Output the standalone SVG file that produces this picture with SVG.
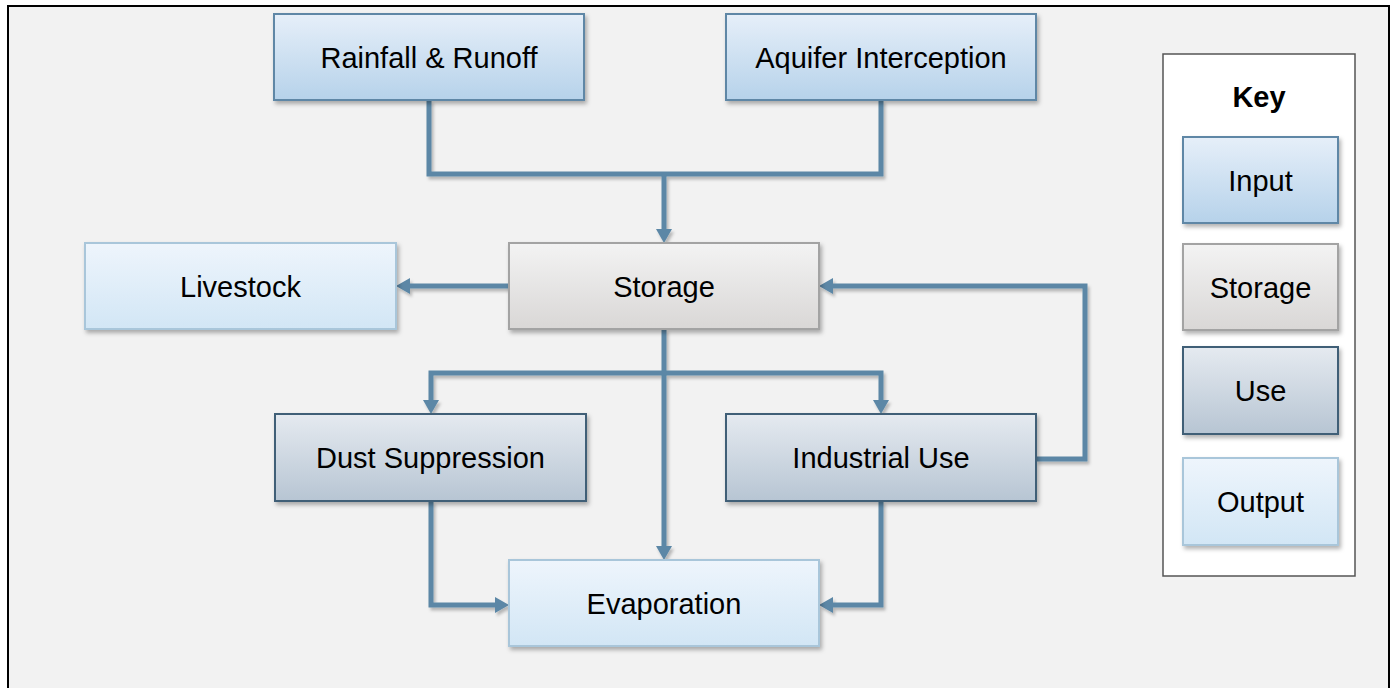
<svg xmlns="http://www.w3.org/2000/svg" width="1394" height="688" viewBox="0 0 1394 688">
  <defs>
    <linearGradient id="gIn" x1="0" y1="0" x2="0" y2="1">
      <stop offset="0" stop-color="#e6eff9"/>
      <stop offset="1" stop-color="#b6d2ea"/>
    </linearGradient>
    <linearGradient id="gSt" x1="0" y1="0" x2="0" y2="1">
      <stop offset="0" stop-color="#f3f3f3"/>
      <stop offset="1" stop-color="#d9d7d6"/>
    </linearGradient>
    <linearGradient id="gUse" x1="0" y1="0" x2="0" y2="1">
      <stop offset="0" stop-color="#e5eaf0"/>
      <stop offset="1" stop-color="#b7c5d3"/>
    </linearGradient>
    <linearGradient id="gOut" x1="0" y1="0" x2="0" y2="1">
      <stop offset="0" stop-color="#eef5fc"/>
      <stop offset="1" stop-color="#d2e6f5"/>
    </linearGradient>
    <filter id="sh" x="-10%" y="-10%" width="130%" height="140%">
      <feDropShadow dx="2" dy="3" stdDeviation="2" flood-color="#000" flood-opacity="0.3"/>
    </filter>
    <filter id="lsh" x="-5%" y="-5%" width="110%" height="110%">
      <feDropShadow dx="2" dy="3" stdDeviation="1.5" flood-color="#000" flood-opacity="0.25"/>
    </filter>
    <marker id="ah" markerUnits="userSpaceOnUse" markerWidth="14" markerHeight="16" refX="0" refY="8" orient="auto" viewBox="0 0 14 16">
      <path d="M0,0 L14,8 L0,16 z" fill="#5b87a6"/>
    </marker>
  </defs>
  <style>
    .t { font-family: "Liberation Sans", Arial, sans-serif; font-size: 29px; fill: #000; text-anchor: middle; }
    .kt { font-family: "Liberation Sans", Arial, sans-serif; font-size: 29px; font-weight: bold; fill: #000; text-anchor: middle; }
    .in { fill: url(#gIn); stroke: #5f87a6; stroke-width: 2; filter: url(#sh); }
    .st { fill: url(#gSt); stroke: #a3a3a3; stroke-width: 2; filter: url(#sh); }
    .use { fill: url(#gUse); stroke: #3f5f77; stroke-width: 2; filter: url(#sh); }
    .out { fill: url(#gOut); stroke: #a9c6da; stroke-width: 2; filter: url(#sh); }
    .c { fill: none; stroke: #5b87a6; stroke-width: 5; stroke-linejoin: miter; }
  </style>
  <rect x="0" y="0" width="1394" height="688" fill="#ffffff"/>
  <rect x="8" y="6" width="1381" height="700" fill="#f2f2f2" stroke="#000" stroke-width="2"/>

  <g id="connectors" filter="url(#lsh)">
    <path class="c" d="M429,100 V174 H881 V100"/>
    <path class="c" d="M664,174 V229" marker-end="url(#ah)"/>
    <path class="c" d="M509,286 H410" marker-end="url(#ah)"/>
    <path class="c" d="M1036,459 H1085 V286 H833" marker-end="url(#ah)"/>
    <path class="c" d="M664,329 V546" marker-end="url(#ah)"/>
    <path class="c" d="M664,373 H431 V400" marker-end="url(#ah)"/>
    <path class="c" d="M664,373 H881 V400" marker-end="url(#ah)"/>
    <path class="c" d="M431,501 V605 H495" marker-end="url(#ah)"/>
    <path class="c" d="M881,501 V605 H833" marker-end="url(#ah)"/>
  </g>

  <g id="rainfall">
    <rect class="in" x="274" y="14" width="310" height="86"/>
    <text class="t" x="429" y="67.5">Rainfall &amp; Runoff</text>
  </g>
  <g id="aquifer">
    <rect class="in" x="726" y="14" width="310" height="86"/>
    <text class="t" x="881" y="67.5">Aquifer Interception</text>
  </g>
  <g id="storage">
    <rect class="st" x="509" y="243" width="310" height="86"/>
    <text class="t" x="664" y="296.5">Storage</text>
  </g>
  <g id="livestock">
    <rect class="out" x="85" y="243" width="311" height="86"/>
    <text class="t" x="240.5" y="296.5">Livestock</text>
  </g>
  <g id="dust">
    <rect class="use" x="275" y="414" width="311" height="87"/>
    <text class="t" x="430.5" y="468">Dust Suppression</text>
  </g>
  <g id="industrial">
    <rect class="use" x="726" y="414" width="310" height="87"/>
    <text class="t" x="881" y="468">Industrial Use</text>
  </g>
  <g id="evaporation">
    <rect class="out" x="509" y="560" width="310" height="86"/>
    <text class="t" x="664" y="613.5">Evaporation</text>
  </g>

  <g id="key">
    <rect x="1163" y="54" width="192" height="522" fill="#ffffff" stroke="#555" stroke-width="1.5"/>
    <text class="kt" x="1259" y="107">Key</text>
    <g id="key-input">
      <rect class="in" x="1183" y="137" width="155" height="86"/>
      <text class="t" x="1260.5" y="190.5">Input</text>
    </g>
    <g id="key-storage">
      <rect class="st" x="1183" y="244" width="155" height="86"/>
      <text class="t" x="1260.5" y="297.5">Storage</text>
    </g>
    <g id="key-use">
      <rect class="use" x="1183" y="347" width="155" height="87"/>
      <text class="t" x="1260.5" y="401">Use</text>
    </g>
    <g id="key-output">
      <rect class="out" x="1183" y="458" width="155" height="87"/>
      <text class="t" x="1260.5" y="512">Output</text>
    </g>
  </g>
</svg>
